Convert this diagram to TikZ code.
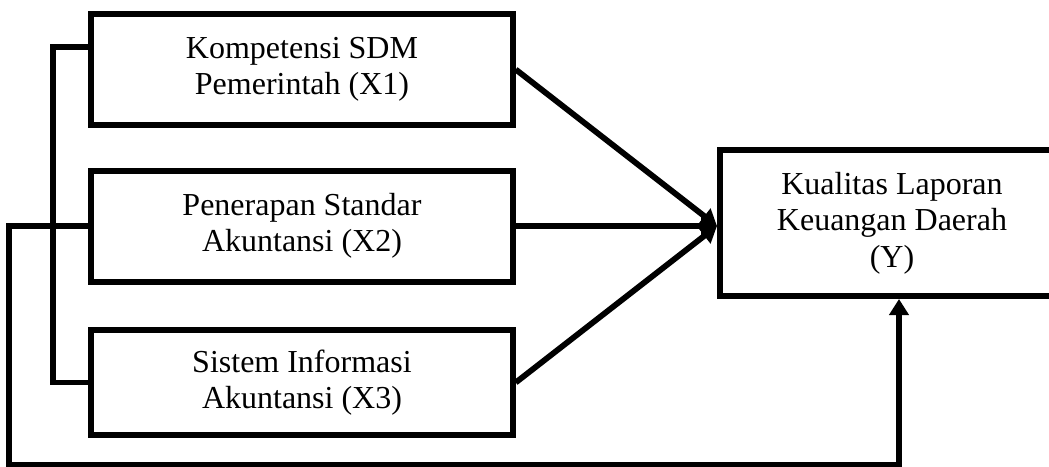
\documentclass[tikz,border=0pt]{standalone}
\usepackage{fontspec}
\setmainfont{Liberation Serif}
\usetikzlibrary{positioning, arrows.meta}

\begin{document}
\begin{tikzpicture}[auto, node distance=78.25pt,
  main node/.style={rectangle,draw,line width=3pt,minimum width=210.75pt,minimum height=55.5pt,align=center,font=\fontsize{16}{18.3}\selectfont},
  link/.style={line width=2.9pt},
  arrow link/.style={line width=2.9pt,-{Triangle[length=8pt,width=9.5pt]}}]

\path[use as bounding box, clip] (-151pt,-198.25pt) rectangle (373.5pt,34.75pt);

\node[main node] (X1) {Kompetensi SDM\\Pemerintah (X1)};
\node[main node] (X2) [below of=X1] {Penerapan Standar\\Akuntansi (X2)};
\node[main node, minimum height=52.5pt] (X3) [below of=X2] {Sistem Informasi\\Akuntansi (X3)};
\node[main node, minimum width=172pt, minimum height=73pt, node distance=295pt] (Y) [right of=X2, yshift=1.5pt] {Kualitas Laporan\\Keuangan Daerah\\(Y)};

\coordinate (Yin) at (Y.west |- X2.east);
\coordinate (Ybot) at ([xshift=3.5pt]Y.south);
\coordinate (B1) at ([yshift=11.25pt]X1.west);
\coordinate (Low) at ([yshift=-83pt]Ybot);

\path[arrow link]
(X1.east) edge (Yin)
(X2.east) edge (Yin)
(X3.east) edge (Yin)
;

\draw[link] (B1) -- ++(-17.75pt,0) |- (X3.west);
\draw[arrow link] (X2.west) -- ++(-39.75pt,0) |- (Low) -- (Ybot);
\end{tikzpicture}
\end{document}
